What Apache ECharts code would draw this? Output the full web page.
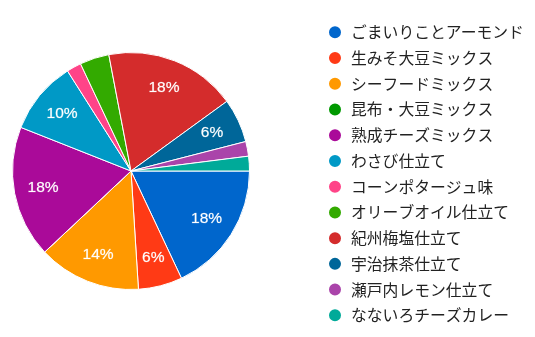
<!DOCTYPE html>
<html><head><meta charset="utf-8">
<script src="https://cdn.jsdelivr.net/npm/echarts@6/dist/echarts.min.js"></script>
<style>html,body{margin:0;padding:0;background:#fff}#c{width:535px;height:337px}</style>
</head><body><div id="c"></div>
<script>
const categories = ['ごまいりことアーモンド','生みそ大豆ミックス','シーフードミックス','昆布・大豆ミックス','熟成チーズミックス','わさび仕立て','コーンポタージュ味','オリーブオイル仕立て','紀州梅塩仕立て','宇治抹茶仕立て','瀬戸内レモン仕立て','なないろチーズカレー'];
const values = [9, 3, 7, 0, 9, 5, 1, 2, 9, 3, 1, 1];
const colors = ['#0066CC','#FF3A15','#FF9900','#009900','#AA0A99','#0099C6','#FF4488','#33AA00','#D42C2C','#006699','#AA44AA','#00AA99'];

const data = categories.map((n, i) => ({ name: n, value: values[i] }));
const chart = echarts.init(document.getElementById('c'), null, { renderer: 'canvas' });
const R = 118.5;
chart.setOption({
  animation: false,
  color: colors,
  legend: {
    orient: 'vertical',
    left: 322,
    top: 19.3,
    icon: 'circle',
    itemWidth: 14,
    itemHeight: 14,
    itemGap: 9.73,
    textStyle: { fontFamily: 'Noto Sans CJK JP', fontSize: 15.8, color: '#222', lineHeight: 16, padding: [0, 0, 0, 4] },
    data: categories
  },
  series: [
    {
      type: 'pie',
      center: [131, 171],
      radius: [0, R],
      startAngle: 0,
      clockwise: true,
      avoidLabelOverlap: false,
      itemStyle: { borderColor: '#fff', borderWidth: 1 },
      label: { show: false },
      labelLine: { show: false },
      emphasis: { disabled: true },
      data: data
    },
    {
      type: 'pie',
      center: [131, 171],
      radius: [R * 0.46, R],
      startAngle: 0,
      clockwise: true,
      silent: true,
      avoidLabelOverlap: false,
      itemStyle: { color: 'rgba(0,0,0,0)', borderWidth: 0 },
      label: {
        show: true,
        position: 'inside',
        color: '#fff',
        fontFamily: 'Liberation Sans, Arial',
        fontSize: 15.5,
        fontWeight: 500,
        textBorderColor: 'rgba(255,255,255,0.35)',
        textBorderWidth: 0.6,
        formatter: p => p.percent >= 5 ? Math.round(p.percent) + '%' : ''
      },
      labelLine: { show: false },
      emphasis: { disabled: true },
      data: data
    }
  ]
});
</script></body></html>
